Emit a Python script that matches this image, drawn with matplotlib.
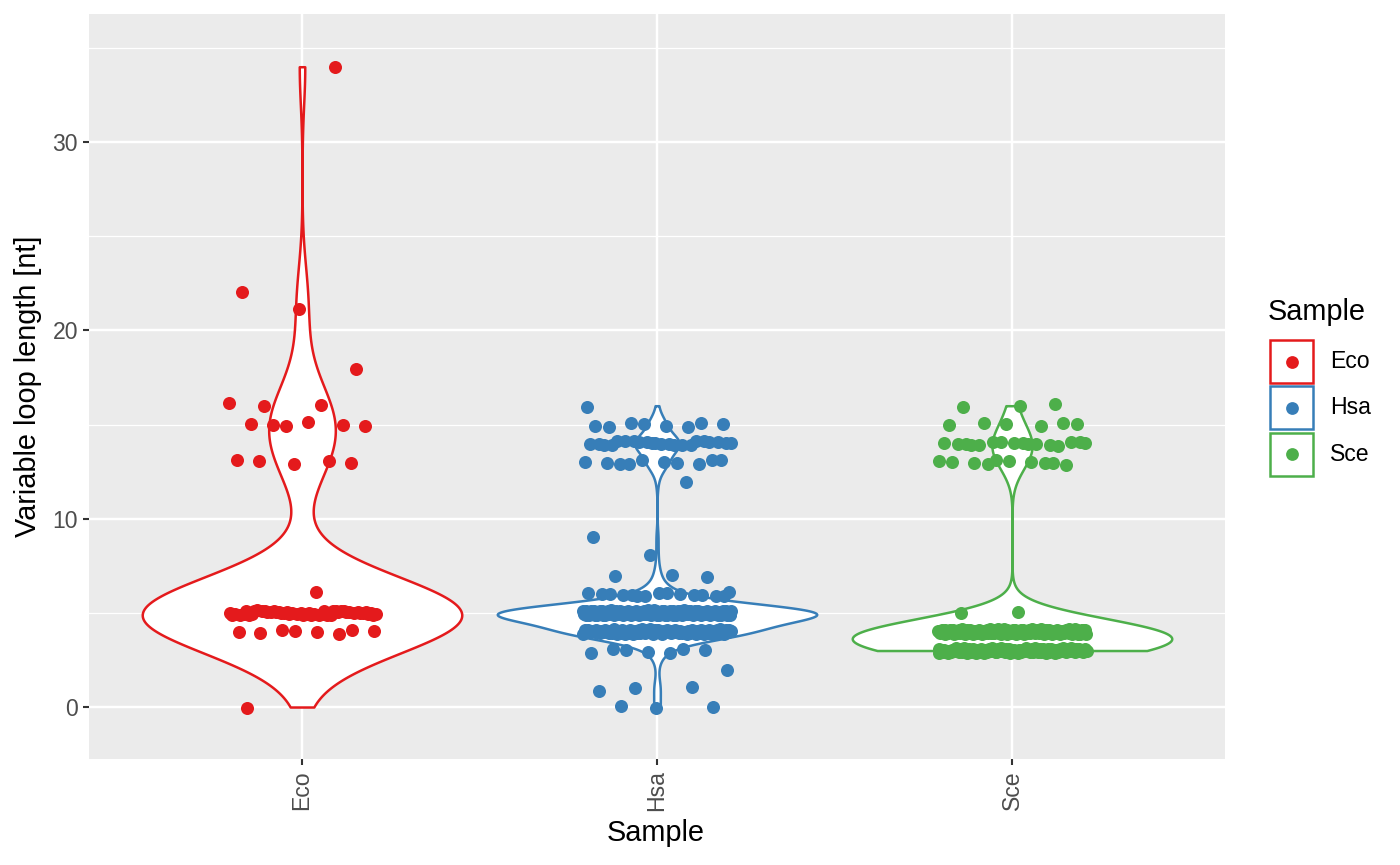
import numpy as np
import matplotlib
matplotlib.use("Agg")
import matplotlib.pyplot as plt
from matplotlib.patches import Rectangle
from matplotlib.lines import Line2D

plt.rcParams['font.family'] = ['Liberation Sans', 'DejaVu Sans']

W, H = 1400, 865

samples = ['Eco', 'Hsa', 'Sce']
colors = ['#E41A1C', '#377EB8', '#4DAF4A']

# loop lengths and how many loops have each length
eco_len = [0, 4, 5, 6, 13, 15, 16, 18, 21, 22, 34]
eco_cnt = [1, 8, 50, 1, 5, 6, 3, 1, 1, 1, 1]
hsa_len = [0, 1, 2, 3, 4, 5, 6, 7, 8, 9, 12, 13, 14, 15, 16]
hsa_cnt = [3, 3, 1, 7, 85, 160, 15, 3, 1, 1, 1, 10, 22, 8, 1]
sce_len = [3, 4, 5, 13, 14, 15, 16]
sce_cnt = [95, 135, 2, 10, 16, 6, 3]

# kde bandwidth of each violin (nt)
bandwidth = [2.0, 0.5, 0.9]

data = [np.repeat(eco_len, eco_cnt).astype(float),
        np.repeat(hsa_len, hsa_cnt).astype(float),
        np.repeat(sce_len, sce_cnt).astype(float)]

TITLE_SIZE = 20.8
TEXT_SIZE = 16.6


def spread(n, step, start):
    # evenly spread offsets in [-0.5, 0.5) used as jitter
    return (start + np.arange(n) * step) % 1.0 - 0.5


fig = plt.figure(figsize=(W / 100, H / 100), dpi=100)
ax = fig.add_axes([89 / W, 1 - 759 / H, (1225 - 89) / W, (759 - 14) / H])
ax.set_facecolor('#EBEBEB')

for i, (vals, col, bw) in enumerate(zip(data, colors, bandwidth)):
    pos = i + 1
    parts = ax.violinplot(vals, positions=[pos], widths=0.9, showextrema=False,
                          points=512, bw_method=bw / vals.std(ddof=1))
    for body in parts['bodies']:
        body.set_facecolor('white')
        body.set_edgecolor(col)
        body.set_linewidth(1.8)
        body.set_alpha(1)
        body.set_zorder(2)
    jx = spread(len(vals), 0.6180339887, 0.13 * pos) * 0.42
    jy = spread(len(vals), 0.7548776662, 0.37 * pos) * 0.26
    ax.scatter(pos + jx, vals + jy, s=88, color=col, linewidths=0, zorder=3)

ax.set_xlim(0.4, 3.6)
ax.set_ylim(-2.76, 36.8)
ax.set_xticks([1, 2, 3])
ax.set_xticklabels(samples, rotation=90, va='top', ha='center')
ax.set_yticks([0, 10, 20, 30])
ax.set_yticks([5, 15, 25, 35], minor=True)
ax.set_axisbelow(True)
ax.grid(which='major', color='white', linewidth=1.75)
ax.grid(which='minor', axis='y', color='white', linewidth=0.9)
ax.tick_params(which='major', length=4.5, width=1.5, color='#333333',
               labelsize=TEXT_SIZE, labelcolor='#4D4D4D', pad=3.5)
ax.tick_params(which='minor', length=0)
for sp in ax.spines.values():
    sp.set_visible(False)

fig.text(656 / W, 1 - 833 / H, 'Sample', fontsize=TITLE_SIZE, ha='center', va='center')
fig.text(28 / W, 1 - 386 / H, 'Variable loop length [nt]', fontsize=TITLE_SIZE,
         ha='center', va='center', rotation=90)

# legend
fig.text(1268 / W, 1 - 312 / H, 'Sample', fontsize=TITLE_SIZE, ha='left', va='center')
for i, (s, col) in enumerate(zip(samples, colors)):
    top = 340 + i * 46.3
    fig.add_artist(Rectangle((1270 / W, 1 - (top + 43) / H), 43 / W, 43 / H,
                             transform=fig.transFigure, facecolor='white',
                             edgecolor=col, linewidth=1.8))
    fig.add_artist(Line2D([1291.5 / W], [1 - (top + 21.5) / H], marker='o',
                          markersize=9.2, color=col, markeredgewidth=0,
                          transform=fig.transFigure))
    fig.text(1330 / W, 1 - (top + 21.5) / H, s, fontsize=TEXT_SIZE, ha='left',
             va='center')

fig.savefig('out.png', dpi=100)
